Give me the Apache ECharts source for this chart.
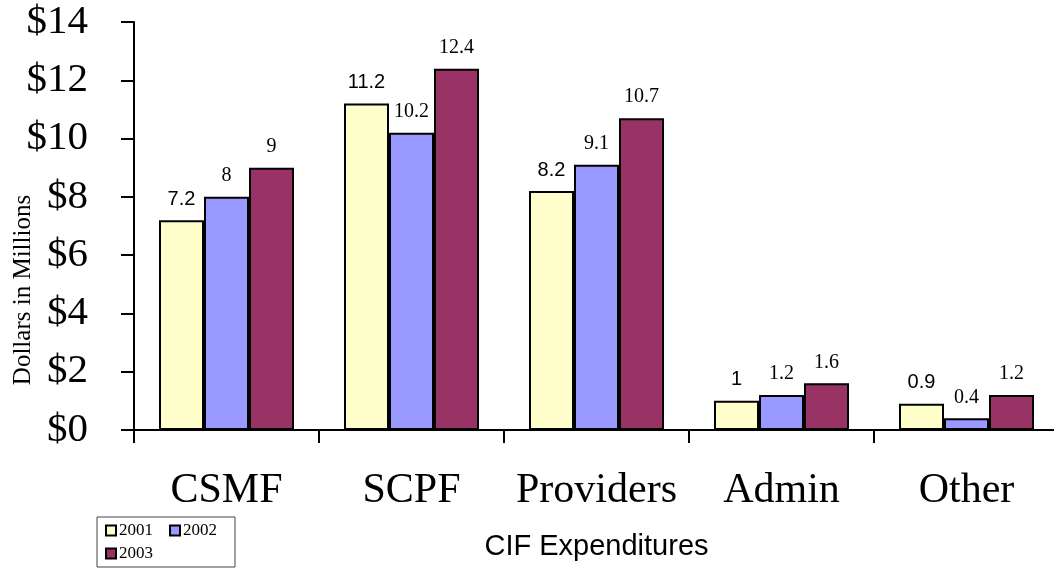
<!DOCTYPE html>
<html>
<head>
    <meta charset="utf-8">
    <title>CIF Expenditures</title>
    <script src="https://cdn.jsdelivr.net/npm/echarts@6/dist/echarts.min.js"></script>
    <style>
        html, body { margin: 0; padding: 0; background: #fff; }
        #chart1 { width: 1054px; height: 569px; }
    </style>
</head>
<body>
<div id="chart1"></div>
<script type="text/javascript">
    // categories and values (millions of dollars)
    var categories = ['CSMF', 'SCPF', 'Providers', 'Admin', 'Other'];
    var years = ['2001', '2002', '2003'];
    var values2001 = [7.2, 11.2, 8.2, 1, 0.9];
    var values2002 = [8, 10.2, 9.1, 1.2, 0.4];
    var values2003 = [9, 12.4, 10.7, 1.6, 1.2];
    var yTicks = [0, 2, 4, 6, 8, 10, 12, 14];

    var colors = ['#FFFFCC', '#9999FF', '#993366'];
    var serif = 'Liberation Serif';
    var sans = 'Liberation Sans';

    function barSeries(name, data, color, labelFont) {
        return {
            name: name,
            type: 'bar',
            data: data,
            barWidth: 45,
            barGap: '0%',
            itemStyle: { color: color, borderColor: '#000', borderWidth: 2 },
            label: {
                show: true,
                position: 'top',
                distance: 11,
                color: '#000',
                fontFamily: labelFont,
                fontSize: 20
            }
        };
    }

    var chart = echarts.init(document.getElementById('chart1'));
    chart.setOption({
        animation: false,
        backgroundColor: '#fff',
        grid: { left: 134, top: 22, width: 925, height: 408, containLabel: false, outerBoundsMode: 'none' },
        legend: {
            data: years,
            left: 97,
            top: 517,
            width: 124,
            orient: 'horizontal',
            padding: [5, 8],
            itemGap: 6,
            itemWidth: 10,
            itemHeight: 10,
            icon: 'rect',
            borderColor: '#444',
            borderWidth: 1,
            borderRadius: 0,
            textStyle: { fontFamily: serif, fontSize: 17, color: '#000', width: 44, lineHeight: 16, padding: [0, 0, 0, -2] }
        },
        xAxis: {
            type: 'category',
            data: categories,
            name: 'CIF Expenditures',
            nameLocation: 'middle',
            nameGap: 102,
            nameTextStyle: { fontFamily: sans, fontSize: 29, color: '#000' },
            axisLine: { lineStyle: { color: '#000', width: 2 } },
            axisTick: { show: true, length: 13, lineStyle: { color: '#000', width: 2 } },
            axisLabel: { interval: 0, fontFamily: serif, fontSize: 42, color: '#000', margin: 40 },
            splitLine: { show: false }
        },
        yAxis: {
            type: 'value',
            min: yTicks[0],
            max: yTicks[yTicks.length - 1],
            interval: 2,
            axisLine: { show: true, lineStyle: { color: '#000', width: 2 } },
            axisTick: { show: true, length: 13, lineStyle: { color: '#000', width: 2 } },
            axisLabel: {
                fontFamily: serif, fontSize: 41, color: '#000', margin: 46,
                formatter: function (v) { return '$' + v; }
            },
            splitLine: { show: false }
        },
        graphic: [{
            type: 'text',
            x: 23,
            y: 290,
            rotation: Math.PI / 2,
            style: {
                text: 'Dollars in Millions',
                fontFamily: serif,
                fontSize: 25,
                fill: '#000',
                textAlign: 'center',
                textVerticalAlign: 'middle'
            }
        }],
        series: [
            barSeries(years[0], values2001, colors[0], sans),
            barSeries(years[1], values2002, colors[1], serif),
            barSeries(years[2], values2003, colors[2], serif)
        ]
    });
</script>
</body>
</html>
